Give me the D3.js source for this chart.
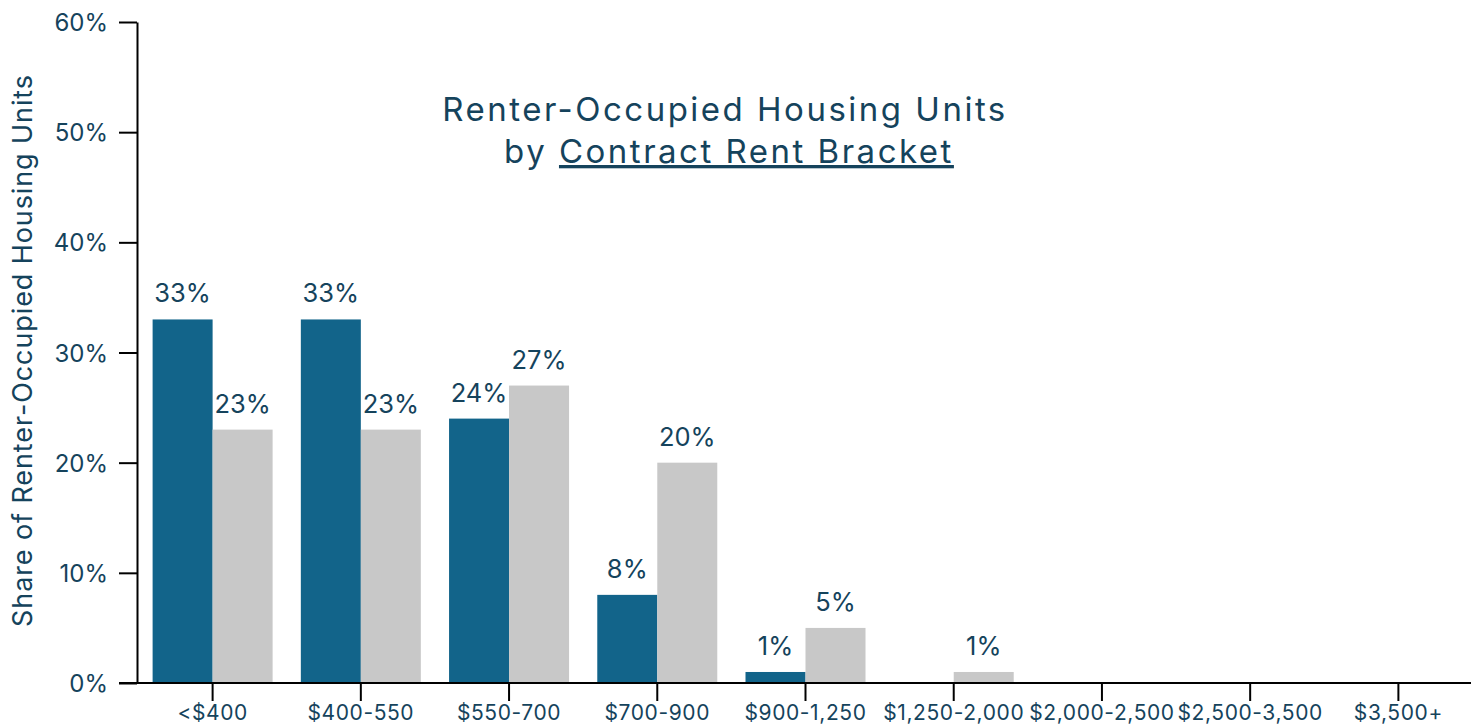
<!DOCTYPE html>
<html>
<head>
<meta charset="utf-8">
<script src="https://cdn.jsdelivr.net/npm/d3@7"></script>
<style>
  html, body { margin: 0; padding: 0; background: #fff; }
  svg text { fill: #15435c; }
</style>
</head>
<body>
<svg id="chart" width="1479" height="726"></svg>
<script>
// Rent brackets and the share of renter-occupied units in each
const brackets = ["<$400", "$400-550", "$550-700", "$700-900", "$900-1,250",
                  "$1,250-2,000", "$2,000-2,500", "$2,500-3,500", "$3,500+"];
const seriesA = [33, 33, 24, 8, 1, 0, 0, 0, 0];
const seriesB = [23, 23, 27, 20, 5, 1, 0, 0, 0];
const yTicks = [0, 10, 20, 30, 40, 50, 60];

const svg = d3.select("#chart");
const margin = { left: 137, right: 8, top: 22, bottom: 43 };
const W = 1479, H = 726;

const x = d3.scaleBand()
  .domain(brackets)
  .range([margin.left, W - margin.right])
  .paddingInner(0).paddingOuter(0);

const y = d3.scaleLinear()
  .domain([0, 60])
  .range([H - margin.bottom, margin.top]);

const sub = d3.scaleBand()
  .domain(["a", "b"])
  .range([0, 120]);

const textFont = "Inter, 'Noto Sans', sans-serif";

// bars
const rows = brackets.map((b, i) => ({ b, a: seriesA[i], v: seriesB[i] }));
const groups = svg.append("g").selectAll("g").data(rows).join("g")
  .attr("transform", d => `translate(${x(d.b) + x.bandwidth() / 2 + 1.5 - 60},0)`);

groups.append("rect")
  .attr("x", sub("a")).attr("width", sub.bandwidth())
  .attr("y", d => y(d.a)).attr("height", d => y(0) - y(d.a))
  .attr("fill", "#12648a");
groups.append("rect")
  .attr("x", sub("b")).attr("width", sub.bandwidth())
  .attr("y", d => y(d.v)).attr("height", d => y(0) - y(d.v))
  .attr("fill", "#c8c8c8");

// value labels (zero values are not labelled)
groups.filter(d => d.a > 0).append("text")
  .attr("x", sub("a") + sub.bandwidth() / 2)
  .attr("y", d => y(d.a) - 17)
  .attr("text-anchor", "middle")
  .style("font-family", textFont).style("font-size", "25.5px")
  .text(d => d.a + "%");
groups.filter(d => d.v > 0).append("text")
  .attr("x", sub("b") + sub.bandwidth() / 2)
  .attr("y", d => y(d.v) - 17)
  .attr("text-anchor", "middle")
  .style("font-family", textFont).style("font-size", "25.5px")
  .text(d => d.v + "%");

// y axis
const yAxis = svg.append("g")
  .attr("transform", `translate(${margin.left},0)`)
  .call(d3.axisLeft(y).tickValues(yTicks).tickFormat(d => d + "%").tickSize(18).tickSizeOuter(0));
yAxis.select(".domain").attr("stroke", "#000").attr("stroke-width", 2);
yAxis.selectAll(".tick line").attr("stroke", "#000").attr("stroke-width", 2);
yAxis.selectAll(".tick text")
  .attr("x", -29).attr("dy", "0.36em")
  .style("font-family", textFont).style("font-size", "24px").attr("fill", "#15435c");

// x axis
const xAxis = svg.append("g")
  .attr("transform", `translate(1.5,${y(0)})`)
  .call(d3.axisBottom(x).tickSize(18).tickSizeOuter(0));
xAxis.select(".domain").remove();
xAxis.selectAll(".tick line").attr("stroke", "#000").attr("stroke-width", 2);
xAxis.selectAll(".tick text")
  .attr("y", 22).attr("dy", "0.71em")
  .style("font-family", textFont).style("font-size", "21px")
  .style("letter-spacing", "0.6px").attr("fill", "#15435c");
svg.append("line")
  .attr("x1", margin.left - 18).attr("x2", W - margin.right)
  .attr("y1", y(0)).attr("y2", y(0))
  .attr("stroke", "#000").attr("stroke-width", 2);

// y axis title
svg.append("text")
  .attr("transform", `translate(32,${(y(0) + y(60)) / 2 - 2}) rotate(-90)`)
  .attr("text-anchor", "middle")
  .style("font-family", textFont).style("font-size", "27px")
  .style("letter-spacing", "0.9px")
  .text("Share of Renter-Occupied Housing Units");

// chart title, two lines, the second partly underlined
const titleStyle = sel => sel
  .attr("text-anchor", "middle")
  .style("font-family", textFont).style("font-size", "33px")
  .style("letter-spacing", "2.5px");
svg.append("text").call(titleStyle)
  .attr("x", 725).attr("y", 121)
  .text("Renter-Occupied Housing Units");
const l2 = svg.append("text").call(titleStyle)
  .attr("x", 729).attr("y", 163);
l2.append("tspan").text("by ");
l2.append("tspan").style("text-decoration", "underline").text("Contract Rent Bracket");
</script>
</body>
</html>
